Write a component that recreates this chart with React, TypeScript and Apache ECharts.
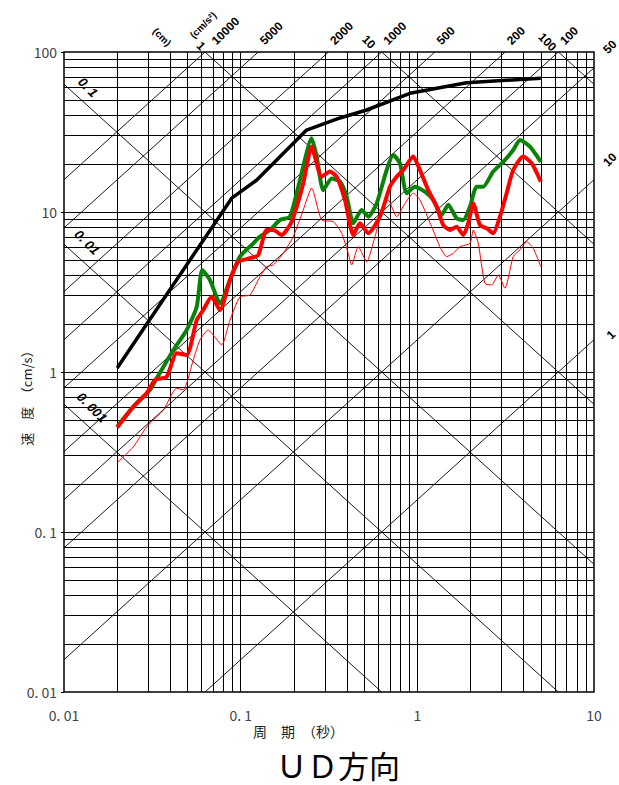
import React, { useEffect, useRef } from "react";
import * as echarts from "echarts";

// ---- data (period in s, velocity in cm/s) ----
const periodBlack = [0.02, 0.03, 0.089, 0.123, 0.236, 0.365, 0.516, 0.908, 1.9, 5.0];
const velBlack = [1.06, 2.06, 12.2, 15.8, 32.5, 38.7, 43.4, 55.2, 64.3, 68.5];

const periodGreen = [0.02, 0.0247, 0.0294, 0.0307, 0.0335, 0.0416, 0.0495, 0.0564, 0.0606, 0.067, 0.0764, 0.087, 0.0991, 0.1179, 0.1286, 0.1465, 0.1669, 0.1901, 0.2166, 0.2522, 0.2692, 0.2935, 0.3273, 0.3648, 0.3981, 0.4339, 0.484, 0.5275, 0.5885, 0.6706, 0.7305, 0.797, 0.8699, 0.9692, 1.104, 1.23, 1.373, 1.496, 1.669, 1.819, 1.985, 2.166, 2.36, 2.689, 3.064, 3.49, 3.808, 4.337, 5.0];
const velGreen = [0.455, 0.607, 0.736, 0.772, 0.913, 1.372, 1.83, 2.56, 4.34, 3.76, 2.69, 3.76, 5.26, 6.37, 7.01, 7.72, 8.91, 9.35, 15.85, 28.9, 22.2, 13.7, 16.2, 15.5, 12.5, 8.5, 10.3, 9.35, 11.3, 18.3, 22.7, 20.2, 13.1, 14.4, 13.4, 11.9, 9.6, 11.1, 9.13, 8.91, 10.8, 14.4, 14.4, 17.9, 20.6, 24.4, 28.2, 25.6, 20.6];

const periodRed = [0.02, 0.0247, 0.0294, 0.0327, 0.0381, 0.0434, 0.0495, 0.0564, 0.0614, 0.0685, 0.0764, 0.087, 0.0969, 0.1129, 0.1258, 0.1403, 0.153, 0.1706, 0.1944, 0.2261, 0.2522, 0.2873, 0.3202, 0.3494, 0.3893, 0.4339, 0.4734, 0.5275, 0.6143, 0.6998, 0.7636, 0.8324, 0.9479, 1.034, 1.153, 1.286, 1.402, 1.53, 1.669, 1.819, 1.941, 2.073, 2.262, 2.467, 2.689, 2.935, 3.202, 3.49, 3.975, 4.435, 5.0];
const velRed = [0.45, 0.607, 0.736, 0.891, 0.935, 1.309, 1.277, 2.11, 2.44, 2.95, 2.44, 3.76, 4.89, 5.14, 5.39, 7.72, 7.72, 7.18, 8.7, 15.1, 25.6, 16.6, 17.9, 16.6, 11.9, 7.18, 8.5, 7.36, 9.35, 14.4, 16.6, 18.3, 22.2, 18.3, 13.7, 10.8, 8.29, 7.72, 8.09, 7.18, 8.5, 11.3, 8.29, 7.91, 7.36, 9.35, 13.1, 18.3, 22.2, 20.2, 15.5];

const periodThin = [0.02, 0.0247, 0.0294, 0.0365, 0.0434, 0.0473, 0.0539, 0.0588, 0.0656, 0.07, 0.0781, 0.087, 0.0991, 0.1129, 0.1286, 0.1403, 0.153, 0.1742, 0.1985, 0.2261, 0.2522, 0.2873, 0.3342, 0.373, 0.4064, 0.4249, 0.463, 0.5166, 0.5754, 0.6281, 0.6846, 0.7636, 0.8509, 0.9479, 1.034, 1.205, 1.343, 1.465, 1.597, 1.742, 1.985, 2.073, 2.212, 2.413, 2.634, 2.87, 3.132, 3.49, 3.808, 4.155, 4.529, 5.0];
const velThin = [0.271, 0.341, 0.455, 0.579, 0.791, 0.772, 1.189, 1.585, 1.83, 1.7, 1.475, 2.11, 2.95, 3.03, 3.94, 4.55, 4.67, 5.52, 7.01, 10.3, 14.1, 8.91, 8.7, 7.36, 5.52, 4.67, 6.07, 4.89, 7.01, 9.8, 11.9, 9.35, 11.3, 13.1, 11.9, 8.09, 6.07, 5.26, 5.52, 6.07, 6.37, 7.72, 6.37, 3.58, 3.5, 4.04, 3.34, 5.26, 5.79, 6.52, 5.93, 4.55];

// tripartite guide lines
const accelLines = [10000, 5000, 2000, 1000, 500, 200, 100, 50, 10, 1]; // cm/s^2
const dispLines = [100, 10, 1, 0.1, 0.01, 0.001]; // cm
const accelLabels = ["10000", "5000", "2000", "1000", "500", "200", "100", "50", "10", "1"];
const dispLabels = ["100", "10", "1", "0. 1", "0. 01", "0. 001"];

const xTickLabels = ["0. 01", "0. 1", "1", "10"];
const yTickLabels = ["0. 01", "0. 1", "1", "10", "100"];

const T_MIN = 0.01, T_MAX = 10, V_MIN = 0.01, V_MAX = 100;
const TWO_PI = 2 * Math.PI;

function accelSeg(a: number): [number, number][] {
  const t0 = Math.max(T_MIN, (TWO_PI * V_MIN) / a);
  const t1 = Math.min(T_MAX, (TWO_PI * V_MAX) / a);
  return [[t0, (a * t0) / TWO_PI], [t1, (a * t1) / TWO_PI]];
}
function dispSeg(d: number): [number, number][] {
  const t0 = Math.max(T_MIN, (TWO_PI * d) / V_MAX);
  const t1 = Math.min(T_MAX, (TWO_PI * d) / V_MIN);
  return [[t0, (TWO_PI * d) / t0], [t1, (TWO_PI * d) / t1]];
}

export default function App() {
  const ref = useRef<HTMLDivElement>(null);
  useEffect(() => {
    const chart = echarts.init(ref.current!, null, { renderer: "svg" });

    const gridSegs: [number, number][][] = [];
    [0.01, 0.1, 1].forEach((d) => {
      for (let k = 1; k <= 9; k++) {
        const v = k * d;
        if (v <= T_MIN * 1.0001) continue;
        gridSegs.push([[v, V_MIN], [v, V_MAX]]);
      }
    });
    [0.01, 0.1, 1, 10].forEach((d) => {
      for (let k = 1; k <= 9; k++) {
        const v = k * d;
        if (v <= V_MIN * 1.0001) continue;
        gridSegs.push([[T_MIN, v], [T_MAX, v]]);
      }
    });
    const diagSegs = [...accelLines.map(accelSeg), ...dispLines.map(dispSeg)];

    const tickFont = "Noto Sans CJK JP";
    chart.setOption({
      animation: false,
      backgroundColor: "#fff",
      grid: { left: 64, top: 52, width: 530, height: 640, show: true, borderColor: "#000", borderWidth: 1.5, backgroundColor: "transparent" },
      xAxis: {
        type: "log", logBase: 10, min: T_MIN, max: T_MAX,
        axisLine: { show: false }, axisTick: { show: false }, splitLine: { show: false },
        axisLabel: {
          margin: 16, fontSize: 14, color: "#444", fontFamily: tickFont,
          formatter: (v: number) => xTickLabels[Math.round(Math.log10(v)) + 2] ?? "",
        },
      },
      yAxis: {
        type: "log", logBase: 10, min: V_MIN, max: V_MAX,
        axisLine: { show: false }, splitLine: { show: false },
        axisTick: { show: true, length: 3, lineStyle: { color: "#000" } },
        axisLabel: {
          margin: 7, fontSize: 14, color: "#444", fontFamily: tickFont,
          formatter: (v: number) => yTickLabels[Math.round(Math.log10(v)) + 2] ?? "",
        },
      },
      series: [
        { type: "lines", coordinateSystem: "cartesian2d", silent: true, z: 1,
          lineStyle: { color: "#000", width: 1, opacity: 1 },
          data: gridSegs.map((c) => ({ coords: c })) },
        { type: "lines", coordinateSystem: "cartesian2d", silent: true, z: 1,
          lineStyle: { color: "#000", width: 0.9, opacity: 1 },
          data: diagSegs.map((c) => ({ coords: c })) },
        { type: "line", data: periodBlack.map((t, i) => [t, velBlack[i]]), showSymbol: false, z: 3,
          lineStyle: { color: "#000", width: 3.5 } },
        { type: "line", data: periodGreen.map((t, i) => [t, velGreen[i]]), showSymbol: false, z: 4, smooth: 0.2,
          lineStyle: { color: "#0a820a", width: 4 } },
        { type: "line", data: periodRed.map((t, i) => [t, velRed[i]]), showSymbol: false, z: 5, smooth: 0.2,
          lineStyle: { color: "#ff0000", width: 4 } },
        { type: "line", data: periodThin.map((t, i) => [t, velThin[i]]), showSymbol: false, z: 6, smooth: 0.2,
          lineStyle: { color: "#ff0000", width: 1 } },
      ],
    });

    const toPx = (p: [number, number]) => chart.convertToPixel({ gridIndex: 0 }, p) as unknown as number[];
    const labelFont = "bold 12px 'Liberation Sans', Arial, sans-serif";
    const g: any[] = [];
    const Q = Math.PI / 4;

    // acceleration labels
    accelLines.forEach((a, i) => {
      const seg = accelSeg(a);
      const end = seg[1];
      const p = toPx(end);
      const onTop = Math.abs(end[1] - V_MAX) < 1e-6;
      if (onTop) {
        const dx = a === 10000 ? 13 : 8;
        g.push({ type: "text", x: p[0] + dx, y: p[1] - 5, rotation: Q, z: 100,
          style: { text: accelLabels[i], font: labelFont, fill: "#000", align: "left", verticalAlign: "bottom" } });
      } else {
        const off: Record<number, [number, number]> = { 50: [16, -21], 10: [16, -20], 1: [17, -5] };
        const o = off[a] ?? [16, -15];
        g.push({ type: "text", x: p[0] + o[0], y: p[1] + o[1], rotation: Q, z: 100,
          style: { text: accelLabels[i], font: labelFont, fill: "#000", align: "center", verticalAlign: "middle" } });
      }
    });
    // displacement labels
    const dispOff: Record<string, [number, number]> = {
      "100": [-11, -10], "10": [-13, -10], "1": [-4, -6],
      "0. 1": [24, 3], "0. 01": [23, -2], "0. 001": [28, 3],
    };
    dispLines.forEach((d, i) => {
      const p = toPx(dispSeg(d)[0]);
      const o = dispOff[dispLabels[i]];
      const left = d < 1;
      g.push({ type: "text", x: p[0] + o[0], y: p[1] + o[1], rotation: -Q, z: 100,
        style: { text: dispLabels[i], font: left ? "italic bold 13px 'Liberation Sans', Arial, sans-serif" : labelFont,
          fill: "#000", align: "center", verticalAlign: "middle" } });
    });
    const pOne = toPx(dispSeg(1)[0]);
    g.push({ type: "text", x: pOne[0] - 43, y: pOne[1] - 15, rotation: -Q, z: 100,
      style: { text: "(cm)", font: "bold 10px 'Liberation Sans', Arial, sans-serif", fill: "#000", align: "center", verticalAlign: "middle" } });
    g.push({ type: "text", x: pOne[0] - 2, y: pOne[1] - 27, rotation: Q, z: 100,
      style: { text: "(cm/s²)", font: "bold 10px 'Liberation Sans', Arial, sans-serif", fill: "#000", align: "center", verticalAlign: "middle" } });

    // axis titles and caption
    g.push({ type: "text", x: 253, y: 731, z: 100,
      style: { text: "周　期　（秒）", font: "14px 'Noto Sans CJK JP'", fill: "#222", align: "left", verticalAlign: "middle" } });
    g.push({ type: "text", x: 26, y: 395, rotation: Math.PI / 2, z: 100,
      style: { text: "速　度　（cm/s）", font: "13px 'Noto Sans CJK JP'", fill: "#222", align: "center", verticalAlign: "middle" } });
    g.push({ type: "text", x: 338, y: 764, z: 100,
      style: { text: "ＵＤ方向", font: "31px 'Noto Sans CJK JP'", fill: "#000", align: "center", verticalAlign: "middle" } });

    chart.setOption({ graphic: g });
    return () => chart.dispose();
  }, []);
  return <div ref={ref} style={{ position: "fixed", left: 0, top: 0, width: 619, height: 785, background: "#fff" }} />;
}
